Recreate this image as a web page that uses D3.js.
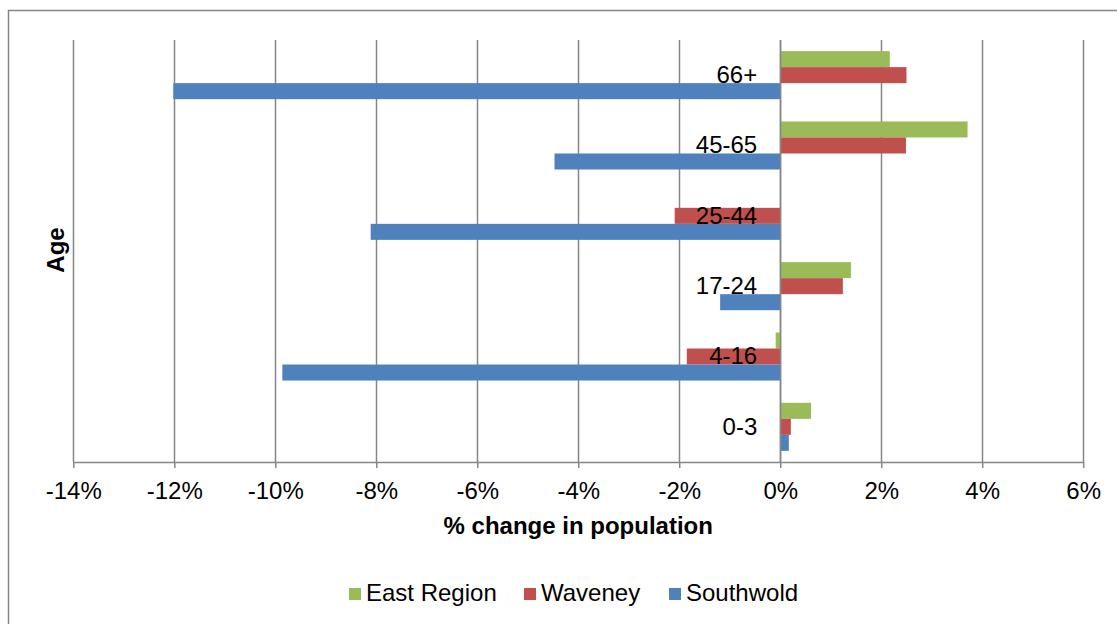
<!DOCTYPE html>
<html>
<head>
<meta charset="utf-8">
<script src="https://cdn.jsdelivr.net/npm/d3@7"></script>
<style>
html,body{margin:0;padding:0;background:#fff;}
svg{display:block;font-family:"Liberation Sans",Arial,sans-serif;}
</style>
</head>
<body>
<svg id="chart" width="1117" height="624"></svg>
<script>
const categories = ["66+", "45-65", "25-44", "17-24", "4-16", "0-3"];
const seriesNames = ["East Region", "Waveney", "Southwold"];
const eastRegion = [2.17, 3.71, 0, 1.40, -0.09, 0.61];
const waveney   = [2.50, 2.49, -2.09, 1.24, -1.85, 0.21];
const southwold = [-12.02, -4.47, -8.11, -1.19, -9.86, 0.17];
const seriesColors = ["#9BBB59", "#C0504D", "#4F81BD"];
const xTicks = [-14, -12, -10, -8, -6, -4, -2, 0, 2, 4, 6];

const seriesValues = [eastRegion, waveney, southwold];
const svg = d3.select("#chart");
const FS = 24;
const FF = "Liberation Sans, Arial, sans-serif";

// outer chart border (only top/left visible)
svg.append("rect").attr("x", 8.5).attr("y", 10.5).attr("width", 1200).attr("height", 700)
  .attr("fill", "none").attr("stroke", "#868686").attr("stroke-width", 1.5);

const pLeft = 73.3, pRight = 1083.2, pTop = 40, pBottom = 462;
const x = d3.scaleLinear().domain([-14, 6]).range([pLeft, pRight]);
const y = d3.scaleBand().domain(categories).range([pTop, pBottom]).paddingInner(0.317).paddingOuter(0.158);
const ys = d3.scaleBand().domain(seriesNames).range([0, y.bandwidth()]);

// gridlines
svg.append("g").selectAll("line").data(xTicks).join("line")
  .attr("x1", d => Math.round(x(d)) + 0.5).attr("x2", d => Math.round(x(d)) + 0.5)
  .attr("y1", pTop).attr("y2", pBottom)
  .attr("stroke", "#868686").attr("stroke-width", 1.5);

// bars
const rows = [];
categories.forEach((c, i) => seriesNames.forEach((s, j) => rows.push({c, s, v: seriesValues[j][i], color: seriesColors[j]})));
svg.append("g").selectAll("rect").data(rows.filter(r => r.v !== 0)).join("rect")
  .attr("x", d => x(Math.min(0, d.v)))
  .attr("width", d => Math.abs(x(d.v) - x(0)))
  .attr("y", d => y(d.c) + ys(d.s))
  .attr("height", ys.bandwidth())
  .attr("fill", d => d.color);

// x axis
const xAxis = d3.axisBottom(x).tickValues(xTicks).tickFormat(d => d + "%").tickSize(6).tickPadding(14);
const gx = svg.append("g").attr("transform", `translate(0,${pBottom})`).call(xAxis);
gx.select(".domain").attr("stroke", "#868686").attr("stroke-width", 1.5).attr("d", `M${pLeft},0.5H${pRight}`);
gx.selectAll(".tick line").attr("stroke", "#868686").attr("stroke-width", 1.5);
gx.selectAll(".tick text").attr("font-size", FS).attr("fill", "#000").attr("font-family", FF);

// zero axis line
svg.append("line").attr("x1", Math.round(x(0)) + 0.5).attr("x2", Math.round(x(0)) + 0.5)
  .attr("y1", pTop).attr("y2", pBottom).attr("stroke", "#868686").attr("stroke-width", 1.5);

// category labels next to axis
const yAxis = d3.axisLeft(y).tickSize(0).tickPadding(23);
const gy = svg.append("g").attr("transform", `translate(${x(0)},0)`).call(yAxis);
gy.select(".domain").remove();
gy.selectAll(".tick text").attr("font-size", FS).attr("fill", "#000").attr("font-family", FF);

// axis titles
svg.append("text").attr("x", (pLeft + pRight) / 2).attr("y", 534).attr("text-anchor", "middle")
  .attr("font-size", FS).attr("font-weight", "bold").text("% change in population");
svg.append("text").attr("transform", "translate(64,250) rotate(-90)").attr("text-anchor", "middle")
  .attr("font-size", FS).attr("font-weight", "bold").text("Age");

// legend
const legendX = [349, 524, 669];
const lg = svg.append("g").selectAll("g").data(seriesNames).join("g")
  .attr("transform", (d, i) => `translate(${legendX[i]},593)`);
lg.append("rect").attr("x", 0).attr("y", -5).attr("width", 12).attr("height", 12).attr("fill", (d, i) => seriesColors[i]);
lg.append("text").attr("x", 17).attr("y", 8).attr("font-size", FS).attr("fill", "#000").text(d => d);
</script>
</body>
</html>
